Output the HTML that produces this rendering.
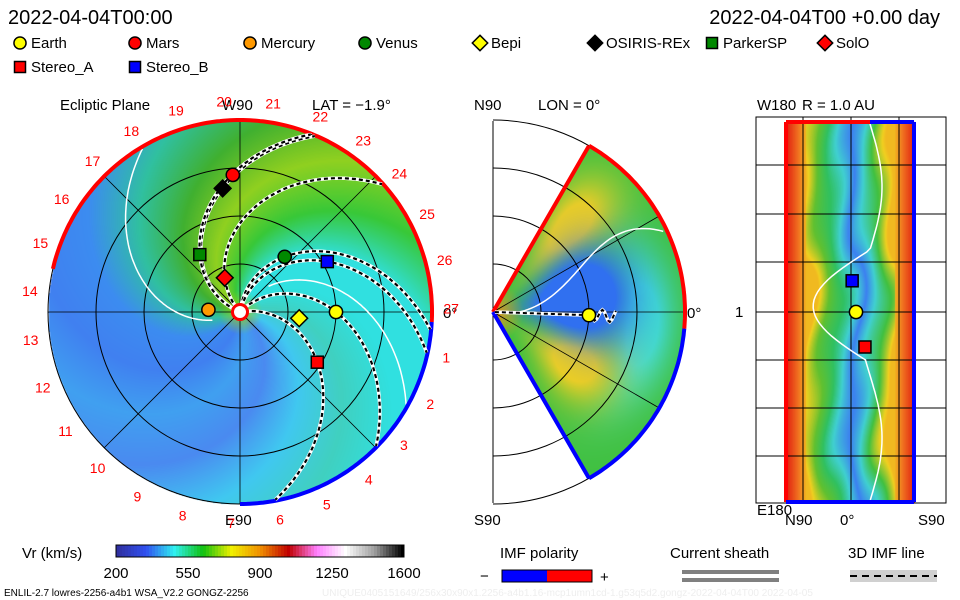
<!DOCTYPE html>
<html><head><meta charset="utf-8">
<style>
body{margin:0;background:#fff;}
#wrap{position:relative;width:960px;height:600px;overflow:hidden;font-family:"Liberation Sans",sans-serif;}
canvas,svg{position:absolute;left:0;top:0;}
</style></head>
<body>
<div id="wrap">
<canvas id="cv" width="960" height="600"></canvas>
<svg id="sv" width="960" height="600" xmlns="http://www.w3.org/2000/svg" font-family="Liberation Sans, sans-serif">
<text x="8" y="24" font-size="20">2022-04-04T00:00</text>
<text x="940" y="24" font-size="20" text-anchor="end">2022-04-04T00 +0.00 day</text>
<g id="legend" font-size="15"></g>
<text x="60" y="110" font-size="15">Ecliptic Plane</text>
<text x="222" y="110" font-size="15">W90</text>
<text x="312" y="110" font-size="15">LAT = −1.9°</text>
<text x="474" y="110" font-size="15">N90</text>
<text x="538" y="110" font-size="15">LON = 0°</text>
<text x="757" y="110" font-size="15">W180</text>
<text x="802" y="110" font-size="15">R = 1.0 AU</text>
<text x="225" y="525" font-size="15">E90</text>
<text x="443" y="318" font-size="15">0°</text>
<text x="474" y="525" font-size="15">S90</text>
<text x="687" y="318" font-size="15">0°</text>
<text x="757" y="515" font-size="15">E180</text>
<text x="735" y="317" font-size="15">1</text>
<text x="785" y="525" font-size="15">N90</text>
<text x="840" y="525" font-size="15">0°</text>
<text x="918" y="525" font-size="15">S90</text>
<g id="eclip"></g>
<g id="merid"></g>
<g id="latlon"></g>
<text x="22" y="558" font-size="15">Vr (km/s)</text>
<g id="cbar"></g>
<text x="4" y="596" font-size="10">ENLIL-2.7 lowres-2256-a4b1 WSA_V2.2 GONGZ-2256</text>
<text x="322" y="596" font-size="10" fill="#eee">UNIQUE0405151649/256x30x90x1.2256-a4b1.16-mcp1umn1cd-1.g53q5d2.gongz-2022-04-04T00    2022-04-05</text>
<text x="500" y="558" font-size="15">IMF polarity</text>
<text x="480" y="581" font-size="15">−</text>
<rect x="502" y="570" width="45" height="12" fill="#00f"/>
<rect x="547" y="570" width="45" height="12" fill="#f00"/>
<rect x="502" y="570" width="90" height="12" fill="none" stroke="#000"/>
<text x="600" y="582" font-size="15">+</text>
<text x="670" y="558" font-size="15">Current sheath</text>
<rect x="682" y="570" width="97" height="4" fill="#808080"/>
<rect x="682" y="578" width="97" height="4" fill="#808080"/>
<text x="848" y="558" font-size="15">3D IMF line</text>
<rect x="850" y="570" width="87" height="12" fill="#d0d0d0"/>
<line x1="850" y1="576" x2="937" y2="576" stroke="#000" stroke-width="2" stroke-dasharray="7,5"/>
</svg>
</div>
<script>
// ---- data ----
const bodyNames=["Earth","Mars","Mercury","Venus","Bepi","OSIRIS-REx","ParkerSP","SolO","Stereo_A","Stereo_B"];
const bodyR=[1.0,1.43,0.33,0.74,0.62,1.30,0.73,0.39,0.96,1.05];
const bodyLon=[0,93,176,51,-6,98,125,114,-33,30];
const bodyFill=["#ff0","#f00","#f90","#080","#ff0","#000","#080","#f00","#f00","#00f"];
const bodyShape=["c","c","c","c","d","d","s","d","s","s"];
const polarLat=[-1.9];
const latlonLat=[-3,0,7];
const latlonLon=[0,0,0];
const latlonBody=["Stereo_B","Earth","Stereo_A"];
const cbarTicks=[200,550,900,1250,1600];
const fieldLinesThrough=[1,5,6,3,9,0,8,7];

const NS="http://www.w3.org/2000/svg";
function mk(tag,attrs,parent){const e=document.createElementNS(NS,tag);for(const k in attrs)e.setAttribute(k,attrs[k]);parent.appendChild(e);return e;}
function marker(g,shape,x,y,fill,s){
  if(shape==="c")return mk("circle",{cx:x,cy:y,r:s*0.55,fill:fill,stroke:"#000","stroke-width":1.5},g);
  if(shape==="s")return mk("rect",{x:x-s/2,y:y-s/2,width:s,height:s,fill:fill,stroke:"#000","stroke-width":1.5},g);
  return mk("polygon",{points:`${x},${y-s*0.7} ${x+s*0.7},${y} ${x},${y+s*0.7} ${x-s*0.7},${y}`,fill:fill,stroke:"#000","stroke-width":1.5},g);
}
// legend
const lg=document.getElementById("legend");
const lgX=[20,135,250,365,480,595,712,825,20,135],lgY=[48,48,48,48,48,48,48,48,72,72];
bodyNames.forEach((n,i)=>{
  const g=mk("g",{},lg);
  
  
  marker(g,bodyShape[i],lgX[i],lgY[i]-5,bodyFill[i],11);
  const t=mk("text",{x:lgX[i]+11,y:lgY[i]},g);t.textContent=n;
});

// ---- color helpers ----
function lerpC(stops,t){t=Math.max(0,Math.min(1,t));const n=stops.length-1;const f=t*n;const i=Math.min(n-1,Math.floor(f));const u=f-i;const a=stops[i],b=stops[i+1];return [a[0]+(b[0]-a[0])*u,a[1]+(b[1]-a[1])*u,a[2]+(b[2]-a[2])*u];}
function hex(h){return [parseInt(h.substr(1,2),16),parseInt(h.substr(3,2),16),parseInt(h.substr(5,2),16)];}

const cv=document.getElementById("cv"),ctx=cv.getContext("2d");
const img=ctx.createImageData(960,600),D=img.data;
function put(x,y,c){const k=(y*960+x)*4;D[k]=c[0];D[k+1]=c[1];D[k+2]=c[2];D[k+3]=255;}

// ecliptic field: color by spiral footpoint angle
const ECX=240,ECY=312,ER=192,AU=96,K=45; // deg per AU
const eclStops=["#30e0e0","#38c838","#90d020","#40b030","#30c0a0","#3c8cf0","#4080f0","#40a0f0","#4a8af0","#40c8f0","#40d0c0","#30e0e0","#30e0e0"].map(hex);
for(let y=ECY-ER;y<=ECY+ER;y++)for(let x=ECX-ER;x<=ECX+ER;x++){
  const dx=x-ECX,dy=ECY-y,r=Math.hypot(dx,dy);if(r>ER)continue;
  let phi=Math.atan2(dy,dx)*180/Math.PI;let p0=phi+K*r/AU;
  p0=((p0-82)%360+360)%360;
  let c=lerpC(eclStops,p0/360);
  if(r<22){c=lerpC([hex("#90d020"),c],r/22);}
  put(x,y,c.map(Math.round));
}
// meridional wedge
const MCX=493,MCY=312,MR=191;
const gC=hex("#40c040"),blueC=hex("#3070f0"),yelC=hex("#f0d020"),oraC=hex("#f09020"),cyC=hex("#40e0d0");
function mix(a,b,w){return [a[0]+(b[0]-a[0])*w,a[1]+(b[1]-a[1])*w,a[2]+(b[2]-a[2])*w];}
for(let y=MCY-MR;y<=MCY+MR;y++)for(let x=MCX;x<=MCX+MR;x++){
  const dx=x-MCX,dy=MCY-y,r=Math.hypot(dx,dy);if(r>MR)continue;
  const th=Math.atan2(dy,dx)*180/Math.PI;if(Math.abs(th)>60)continue;
  let c=gC;
  const bl=Math.exp(-(((th-10)/26)**2+((r-85)/50)**2));
  const yl=Math.exp(-(((th+32)/18)**2+((r-95)/45)**2));
  const yu=Math.exp(-(((th-48)/13)**2+((r-115)/55)**2));
  const cy=Math.exp(-(((th+5)/30)**2+((r-150)/30)**2));
  c=mix(c,cyC,Math.min(1,cy*1.3));
  c=mix(c,yelC,Math.min(1,(yl+yu)*1.3));
  c=mix(c,blueC,Math.min(1,bl*1.8));
  if(r<30)c=mix(oraC,c,r/30);
  put(x,y,c.map(Math.round));
}
// lat-lon map
const llStops=["#e02010","#f07020","#f0d020","#60c030","#30c060","#40d0d0","#3c80f0","#40d0d0","#40c040","#f0d020","#f07020","#e02010"].map(hex);
for(let y=122;y<=502;y++)for(let x=786;x<=914;x++){
  let t=(x-786)/128;
  const w=0.05*Math.sin((y-122)/38)+0.03*Math.sin((y-122)/17+1)+0.02*Math.sin((x-786)/7+(y-122)/23);
  if(t>0.15&&t<0.85)t=Math.max(0.16,Math.min(0.84,t+w));
  put(x,y,lerpC(llStops,t).map(Math.round));
}
ctx.putImageData(img,0,0);

// ---- ecliptic overlay ----
const eg=document.getElementById("eclip");
function ep(rAU,deg){const a=deg*Math.PI/180;return [ECX+rAU*AU*Math.cos(a),ECY-rAU*AU*Math.sin(a)];}
[0.5,1,1.5,2].forEach(r=>{const c=mk("circle",{cx:ECX,cy:ECY,r:r*AU,fill:"none",stroke:"#000","stroke-width":1},eg);});
for(let a=0;a<180;a+=45){const p=ep(2,a),q=ep(2,a+180);mk("line",{x1:p[0],y1:p[1],x2:q[0],y2:q[1],stroke:"#000","stroke-width":0.8},eg);}
let ws="";for(let r=0.3;r<=2;r+=0.02){const p=ep(r,210-K*r);ws+=(ws?"L":"M")+p[0].toFixed(1)+","+p[1].toFixed(1);}
const wsl=mk("path",{d:ws,fill:"none",stroke:"#fff","stroke-width":1.5},eg);
let ws2="";for(let r=0.4;r<=2;r+=0.02){const p=ep(r,60-K*r);ws2+=(ws2?"L":"M")+p[0].toFixed(1)+","+p[1].toFixed(1);}
mk("path",{d:ws2,fill:"none",stroke:"#fff","stroke-width":1.5},eg);
function arc(a0,a1,col){let d="";for(let a=a0;a<=a1;a+=1){const p=ep(2,a);d+=(d?"L":"M")+p[0].toFixed(1)+","+p[1].toFixed(1);}return mk("path",{d:d,fill:"none",stroke:col,"stroke-width":4},eg);}
const ra=arc(-3,167,"#f00");
const ba=arc(-90,-3,"#00f");
fieldLinesThrough.forEach(i=>{
  let d="";for(let r=0.05;r<=2;r+=0.02){const p=ep(r,bodyLon[i]+K*(bodyR[i]-r));d+=(d?"L":"M")+p[0].toFixed(1)+","+p[1].toFixed(1);}
  mk("path",{d:d,fill:"none",stroke:"#fff","stroke-width":3.5},eg);
  const l=mk("path",{d:d,fill:"none",stroke:"#000","stroke-width":2.2,"stroke-dasharray":"4,3"},eg);
  
  
});
mk("circle",{cx:ECX,cy:ECY,r:9,fill:"#f00"},eg);mk("circle",{cx:ECX,cy:ECY,r:6,fill:"#fff"},eg);
for(let k=1;k<=27;k++){const p=ep(2.2,0.9-k*13.33);const t=mk("text",{x:p[0],y:p[1]+5,"font-size":14,fill:"#f00","text-anchor":"middle"},eg);t.textContent=k;}
bodyNames.forEach((n,i)=>{const p=ep(bodyR[i],bodyLon[i]);const m=marker(eg,bodyShape[i],p[0],p[1],bodyFill[i],12);});

// ---- meridional overlay ----
const mg=document.getElementById("merid");
function mp(rAU,deg){const a=deg*Math.PI/180;return [MCX+rAU*AU*Math.cos(a),MCY-rAU*AU*Math.sin(a)];}
[0.5,1,1.5,2].forEach(r=>{const a=mp(r,90),b=mp(r,-90);mk("path",{d:`M${a[0]},${a[1]} A${r*AU},${r*AU} 0 0 1 ${b[0]},${b[1]}`,fill:"none",stroke:"#000","stroke-width":1},mg);});
mk("line",{x1:MCX,y1:MCY-MR,x2:MCX,y2:MCY+MR,stroke:"#000"},mg);
[-60,-30,0,30,60].forEach(a=>{const p=mp(2,a);mk("line",{x1:MCX,y1:MCY,x2:p[0],y2:p[1],stroke:"#000","stroke-width":0.8},mg);});
let wm="";for(let t=0;t<=1;t+=0.02){const r=0.1+1.9*t,th=-8+40*Math.sin(t*2.2);const p=mp(r,th);wm+=(wm?"L":"M")+p[0].toFixed(1)+","+p[1].toFixed(1);}
mk("path",{d:wm,fill:"none",stroke:"#fff","stroke-width":1.5},mg);
function warc(a0,a1,col){let d="";for(let a=a0;a<=a1;a+=1){const p=mp(2,a);d+=(d?"L":"M")+p[0].toFixed(1)+","+p[1].toFixed(1);}return mk("path",{d:d,fill:"none",stroke:col,"stroke-width":4},mg);}
warc(-5,60,"#f00");warc(-60,-5,"#00f");
const e0=mp(2,60),e1=mp(2,-60);
mk("line",{x1:MCX,y1:MCY,x2:e0[0],y2:e0[1],stroke:"#f00","stroke-width":4},mg);
mk("line",{x1:MCX,y1:MCY,x2:e1[0],y2:e1[1],stroke:"#00f","stroke-width":4},mg);
let ml="";for(let r=0.02;r<=1.3;r+=0.02){const p=mp(r,polarLat[0]+(r>1?3*Math.sin(r*40):0));ml+=(ml?"L":"M")+p[0].toFixed(1)+","+p[1].toFixed(1);}
mk("path",{d:ml,fill:"none",stroke:"#fff","stroke-width":3.5},mg);
const mline=mk("path",{d:ml,fill:"none",stroke:"#000","stroke-width":2,"stroke-dasharray":"4,3"},mg);

const ep2=mp(1,polarLat[0]);const em=marker(mg,"c",ep2[0],ep2[1],"#ff0",12);


// ---- lat-lon overlay ----
const lgp=document.getElementById("latlon");
mk("rect",{x:756,y:117,width:190,height:386,fill:"none",stroke:"#000"},lgp);
[803,851,899].forEach(x=>mk("line",{x1:x,y1:117,x2:x,y2:503,stroke:"#000"},lgp));
[165,214,262,312,360,408,456].forEach(y=>mk("line",{x1:756,y1:y,x2:946,y2:y,stroke:"#000"},lgp));
let wl="";for(let y=124;y<=500;y+=4){const x=870+12*Math.sin((y-124)/40)-(y>250&&y<360?45:0)*Math.sin(((y-250)/110)*Math.PI);wl+=(wl?"L":"M")+x.toFixed(1)+","+y;}
mk("path",{d:wl,fill:"none",stroke:"#fff","stroke-width":1.5},lgp);
mk("line",{x1:786,y1:122,x2:786,y2:502,stroke:"#f00","stroke-width":4},lgp);
mk("line",{x1:786,y1:122,x2:870,y2:122,stroke:"#f00","stroke-width":4},lgp);
mk("line",{x1:870,y1:122,x2:914,y2:122,stroke:"#00f","stroke-width":4},lgp);
mk("line",{x1:914,y1:122,x2:914,y2:502,stroke:"#00f","stroke-width":4},lgp);
mk("line",{x1:786,y1:502,x2:914,y2:502,stroke:"#00f","stroke-width":4},lgp);
latlonBody.forEach((n,i)=>{const bi=bodyNames.indexOf(n);const x=851+latlonLat[i]*48/30*0.8+5,y=312-48*(i===0?0.65:0)+(i===2?35:0);
  const m=marker(lgp,bodyShape[bi],x,y,bodyFill[bi],12);});

// ---- colorbar ----
const cb=document.getElementById("cbar");
const cbStops=["#3030a0","#3050f0","#30f0f0","#10c010","#f0f000","#f09000","#c00000","#ff80ff","#ffffff","#a0a0a0","#000000"];
const cbX0=116,cbX1=404;
for(let i=0;i<96;i++){const c=lerpC(cbStops.map(hex),i/95).map(Math.round);mk("rect",{x:cbX0+i*3,y:545,width:3.2,height:12,fill:`rgb(${c})`},cb);}
mk("rect",{x:cbX0,y:545,width:cbX1-cbX0,height:12,fill:"none",stroke:"#000"},cb);
cbarTicks.forEach(v=>{const x=cbX0+(v-200)/1400*(cbX1-cbX0);const t=mk("text",{x:x,y:578,"font-size":15,"text-anchor":"middle"},cb);t.textContent=v;});
</script>
</body></html>
